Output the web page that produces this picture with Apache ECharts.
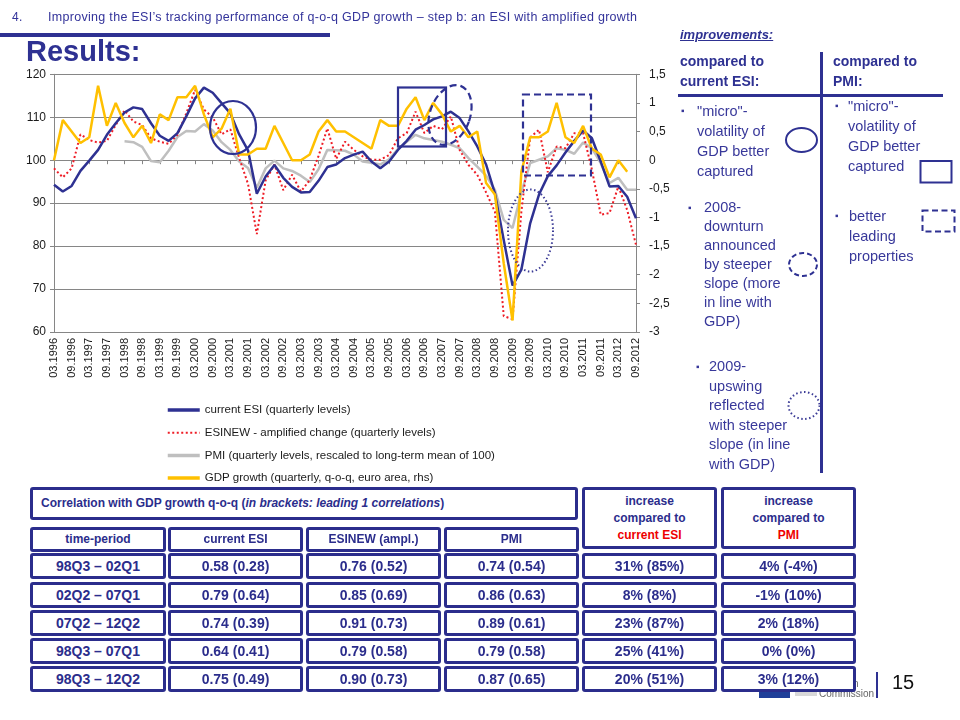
<!DOCTYPE html>
<html><head><meta charset="utf-8">
<script src="https://cdn.jsdelivr.net/npm/echarts@6/dist/echarts.min.js"></script>
<style>
html,body{margin:0;padding:0;background:#fff;}
#wrap{position:relative;width:960px;height:720px;overflow:hidden;font-family:"Liberation Sans",Arial,sans-serif;}
#chart{position:absolute;left:0;top:0;width:960px;height:720px;}
.t{position:absolute;white-space:nowrap;color:#2e3192;}
.box{position:absolute;box-sizing:border-box;border:3px solid #2b2d8c;border-radius:3px;background:#fff;color:#2b2d8c;font-weight:bold;display:flex;align-items:center;justify-content:center;text-align:center;line-height:17px;}
.bl{position:absolute;color:#38389a;font-size:14.5px;line-height:20px;}
svg{position:absolute;left:0;top:0;}
</style></head>
<body><div id="wrap">
<div id="chart"></div>
<svg id="ov" width="960" height="720"></svg>
</div>
<script>
// ---------- data ----------
const quarters = ["03.1996","06.1996","09.1996","12.1996","03.1997","06.1997","09.1997","12.1997",
"03.1998","06.1998","09.1998","12.1998","03.1999","06.1999","09.1999","12.1999",
"03.2000","06.2000","09.2000","12.2000","03.2001","06.2001","09.2001","12.2001",
"03.2002","06.2002","09.2002","12.2002","03.2003","06.2003","09.2003","12.2003",
"03.2004","06.2004","09.2004","12.2004","03.2005","06.2005","09.2005","12.2005",
"03.2006","06.2006","09.2006","12.2006","03.2007","06.2007","09.2007","12.2007",
"03.2008","06.2008","09.2008","12.2008","03.2009","06.2009","09.2009","12.2009",
"03.2010","06.2010","09.2010","12.2010","03.2011","06.2011","09.2011","12.2011",
"03.2012","06.2012","09.2012"];
const currentESI = [94.3,92.7,94.0,97.5,99.9,102.4,105.9,108.6,111.1,112.3,111.9,108.6,105.7,104.5,106.3,110.2,
114.4,116.9,115.7,113.3,110.9,106.0,102.3,92.2,96.2,98.9,95.9,93.8,92.5,92.6,95.2,98.4,
99.0,100.5,101.3,102.0,99.7,98.1,99.7,102.4,104.5,107.1,108.2,109.5,110.2,111.3,109.8,106.7,
103.2,99.0,92.3,81.4,70.8,74.5,85.3,92.0,96.3,98.8,101.8,104.5,106.9,105.1,99.7,93.9,
94.0,91.5,86.5];
const esiNew = [98.1,96.0,98.1,106.0,104.7,104.1,104.5,108.2,111.6,109.0,108.2,105.1,104.3,103.8,105.9,110.9,
116.4,111.8,110.0,106.0,107.2,100.5,94.5,82.8,95.3,99.0,93.0,96.6,92.7,95.4,101.0,107.4,
100.3,104.3,102.4,100.9,100.1,100.1,101.2,105.1,106.3,111.3,106.3,108.0,107.2,110.2,102.4,98.9,
96.6,92.5,88.0,63.7,63.0,88.0,105.3,107.1,97.2,103.2,102.8,106.3,106.3,97.8,87.3,87.7,
93.9,88.4,80.3];
const pmi = [null,null,null,null,null,null,null,null,104.4,104.2,103.1,99.8,99.5,102.2,105.4,106.8,
106.7,108.4,106.9,104.2,102.4,99.7,98.2,93.6,98.1,99.9,98.1,97.5,96.4,94.9,97.9,102.4,
102.3,102.2,101.3,99.7,99.4,99.0,100.2,102.6,104.3,105.9,105.1,104.7,104.3,103.6,102.8,100.5,
98.5,96.4,93.1,86.1,84.2,92.5,99.3,100.1,100.9,102.8,102.4,101.5,104.1,102.8,99.3,94.7,
95.9,93.1,93.1];
const gdp = [0.0,0.7,0.5,0.3,0.4,1.3,0.6,1.0,0.65,0.4,0.6,0.3,0.8,0.7,1.1,1.1,
1.3,0.8,0.4,0.55,0.9,0.1,0.1,0.2,0.2,0.6,0.3,0.0,0.0,0.1,0.5,0.7,
0.5,0.5,0.4,0.3,0.2,0.7,0.6,0.6,0.9,1.1,0.7,1.0,0.8,0.5,0.6,0.4,
0.5,-0.4,-0.6,-1.8,-2.8,-0.2,0.4,0.4,0.5,1.0,0.4,0.3,0.6,0.2,0.1,-0.3,
0.0,-0.2,null];
const seriesNames = ["current ESI (quarterly levels)","ESINEW - amplified change (quarterly levels)",
"PMI (quarterly levels, rescaled to long-term mean of 100)","GDP growth (quarterly, q-o-q, euro area, rhs)"];
const tableHead = ["time-period","current ESI","ESINEW (ampl.)","PMI"];
const periods = ["98Q3 – 02Q1","02Q2 – 07Q1","07Q2 – 12Q2","98Q3 – 07Q1","98Q3 – 12Q2"];
const corrESI = ["0.58 (0.28)","0.79 (0.64)","0.74 (0.39)","0.64 (0.41)","0.75 (0.49)"];
const corrNew = ["0.76 (0.52)","0.85 (0.69)","0.91 (0.73)","0.79 (0.58)","0.90 (0.73)"];
const corrPMI = ["0.74 (0.54)","0.86 (0.63)","0.89 (0.61)","0.79 (0.58)","0.87 (0.65)"];
const incESI = ["31% (85%)","8% (8%)","23% (87%)","25% (41%)","20% (51%)"];
const incPMI = ["4% (-4%)","-1% (10%)","2% (18%)","0% (0%)","3% (12%)"];

// ---------- chart ----------
const chart = echarts.init(document.getElementById('chart'), null, {renderer:'canvas'});
const F = '"Liberation Sans", Arial, sans-serif';
chart.setOption({
  animation:false,
  textStyle:{fontFamily:F},
  grid:{left:54,top:74.3,width:582,height:257.7,containLabel:false},
  legend:{orient:'vertical',left:161,top:399,itemWidth:32,itemHeight:14,itemGap:10.7,
    itemStyle:{opacity:0},
    textStyle:{fontSize:11.5,color:'#1a1a1a',fontFamily:F},
    data:[
      {name:seriesNames[0],lineStyle:{width:3.5}},
      {name:seriesNames[1],lineStyle:{width:2}},
      {name:seriesNames[2],lineStyle:{width:3.5}},
      {name:seriesNames[3],lineStyle:{width:3.5}}
    ]},
  xAxis:{type:'category',data:quarters,boundaryGap:false,
    axisLine:{lineStyle:{color:'#868686',width:1}},
    axisTick:{interval:1,length:4,lineStyle:{color:'#868686'}},
    axisLabel:{interval:1,rotate:90,fontSize:11,color:'#1a1a1a',margin:6,fontFamily:F},
    splitLine:{show:false}},
  yAxis:[
    {type:'value',min:60,max:120,interval:10,position:'left',
     axisLine:{show:true,lineStyle:{color:'#868686'}},axisTick:{show:true,length:4,lineStyle:{color:'#868686'}},
     axisLabel:{fontSize:12,color:'#1a1a1a',margin:8,fontFamily:F},
     splitLine:{show:true,lineStyle:{color:'#868686',width:1}}},
    {type:'value',min:-3,max:1.5,interval:0.5,position:'right',
     axisLine:{show:true,lineStyle:{color:'#868686'}},axisTick:{show:true,length:4,lineStyle:{color:'#868686'}},
     axisLabel:{fontSize:12,color:'#1a1a1a',margin:13,fontFamily:F,formatter:v=>String(v).replace('.',',')},
     splitLine:{show:false}}
  ],
  series:[
    {name:seriesNames[2],type:'line',data:pmi,yAxisIndex:0,symbol:'none',showSymbol:false,
     lineStyle:{color:'#bfbfbf',width:2.5},itemStyle:{color:'#bfbfbf'},z:2},
    {name:seriesNames[1],type:'line',data:esiNew,yAxisIndex:0,symbol:'none',showSymbol:false,
     lineStyle:{color:'#ee1c25',width:2,type:[2,2.5]},itemStyle:{color:'#ee1c25'},z:3},
    {name:seriesNames[0],type:'line',data:currentESI,yAxisIndex:0,symbol:'none',showSymbol:false,
     lineStyle:{color:'#2e3192',width:2.5},itemStyle:{color:'#2e3192'},z:4},
    {name:seriesNames[3],type:'line',data:gdp,yAxisIndex:1,symbol:'none',showSymbol:false,
     lineStyle:{color:'#ffc000',width:2.5},itemStyle:{color:'#ffc000'},z:5}
  ]
});

// ---------- slide overlay ----------
const wrap = document.getElementById('wrap');
function el(html){ const d=document.createElement('div'); d.innerHTML=html; const n=d.firstChild; wrap.appendChild(n); return n; }
function t(x,y,txt,style){ return el(`<div class="t" style="left:${x}px;top:${y}px;${style||''}">${txt}</div>`); }

// header
t(12,10,'4.','font-size:12px;letter-spacing:0.3px;color:#33339a;');
t(48,10,'Improving the ESI’s tracking performance of q-o-q GDP growth – step b: an ESI with amplified growth','font-size:12.5px;letter-spacing:0.3px;color:#33339a;');
el('<div style="position:absolute;left:0px;top:33px;width:330px;height:4px;background:#2e3192"></div>');
t(26,35,'Results:','font-size:29px;font-weight:bold;');

// right panel
t(680,27,'improvements:','font-size:13px;font-weight:bold;font-style:italic;text-decoration:underline;');
t(680,51,'compared to<br>current ESI:','font-size:14px;font-weight:bold;line-height:20px;');
t(833,51,'compared to<br>PMI:','font-size:14px;font-weight:bold;line-height:20px;');
el('<div style="position:absolute;left:678px;top:94px;width:265px;height:3px;background:#2e3192"></div>');
el('<div style="position:absolute;left:820px;top:52px;width:3px;height:421px;background:#2e3192"></div>');
function bullet(bx,tx,y,lines){
  el(`<div class="bl" style="left:${bx}px;top:${y}px;font-size:10px;">&#9642;</div>`);
  el(`<div class="bl" style="left:${tx}px;top:${y}px;">${lines.join('<br>')}</div>`);
}
bullet(681,697,101,['"micro"-','volatility of','GDP better','captured']);
bullet(835,848,96,['"micro"-','volatility of','GDP better','captured']);
el('<div class="bl" style="left:688px;top:198px;font-size:10px;">&#9642;</div>');
el('<div class="bl" style="left:704px;top:198px;line-height:19px;">2008-<br>downturn<br>announced<br>by steeper<br>slope (more<br>in line with<br>GDP)</div>');
bullet(835,849,206,['better','leading','properties']);
el('<div class="bl" style="left:696px;top:357px;font-size:10px;">&#9642;</div>');
el('<div class="bl" style="left:709px;top:357px;line-height:19.5px;">2009-<br>upswing<br>reflected<br>with steeper<br>slope (in line<br>with GDP)</div>');

// logo area
el('<div style="position:absolute;left:759px;top:688px;width:31px;height:10px;background:#1f3f99"></div>');
el('<div style="position:absolute;left:795px;top:690px;width:22px;height:6px;background:#d8d8d8"></div>');
t(853,678,'n','font-size:10px;color:#666;');
t(819,688,'Commission','font-size:10px;color:#666;');
el('<div style="position:absolute;left:876px;top:672px;width:2px;height:26px;background:#2e3192"></div>');
t(892,671,'15','font-size:20px;color:#111;');

// table
function box(x,y,w,h,html,style){ return el(`<div class="box" style="left:${x}px;top:${y}px;width:${w}px;height:${h}px;${style||''}"><div>${html}</div></div>`); }
box(30,487,548,33,'Correlation with GDP growth q-o-q (<i>in brackets: leading 1 correlations</i>)','justify-content:flex-start;padding-left:8px;font-size:12px;');
box(582,487,135,62,'increase<br>compared to<br><span style="color:#e00">current ESI</span>','font-size:12px;');
box(721,487,135,62,'increase<br>compared to<br><span style="color:#e00">PMI</span>','font-size:12px;');
const colX=[30,168,306,444,582,721], colW=[136,135,135,135,135,135];
tableHead.forEach((h,i)=>box(colX[i],527,colW[i],25,h,'font-size:12px;'));
const rowY=[553,582,610,638,666];
periods.forEach((p,r)=>{
  const vals=[p,corrESI[r],corrNew[r],corrPMI[r],incESI[r],incPMI[r]];
  vals.forEach((v,c)=>box(colX[c],rowY[r],colW[c],26,v,'font-size:14px;'));
});

// annotation shapes
const ov=document.getElementById('ov');
ov.innerHTML = `
<ellipse cx="233" cy="127.5" rx="23" ry="26.5" fill="none" stroke="#2e3192" stroke-width="2.2"/>
<rect x="398" y="87.5" width="48" height="59" fill="none" stroke="#2e3192" stroke-width="2.2"/>
<ellipse cx="450" cy="115" rx="20" ry="31" transform="rotate(20 450 115)" fill="none" stroke="#2e3192" stroke-width="2.2" stroke-dasharray="7,4"/>
<rect x="523" y="94.5" width="68" height="81" fill="none" stroke="#2e3192" stroke-width="2.2" stroke-dasharray="7,4"/>
<ellipse cx="530.5" cy="230.5" rx="22.5" ry="41" fill="none" stroke="#3b3b96" stroke-width="2" stroke-dasharray="1.5,2.5"/>
<ellipse cx="801.5" cy="140" rx="15.5" ry="12" fill="none" stroke="#2e3192" stroke-width="2"/>
<rect x="920.5" y="161" width="31" height="21.5" fill="none" stroke="#2e3192" stroke-width="2"/>
<ellipse cx="803" cy="264.5" rx="14" ry="11.5" fill="none" stroke="#2e3192" stroke-width="2" stroke-dasharray="5,3"/>
<rect x="922.5" y="210.5" width="32" height="21" fill="none" stroke="#2e3192" stroke-width="2" stroke-dasharray="6,3.5"/>
<ellipse cx="804" cy="405.5" rx="15.5" ry="13.5" fill="none" stroke="#3b3b96" stroke-width="2" stroke-dasharray="1.5,2.5"/>
`;
</script>
</body></html>
